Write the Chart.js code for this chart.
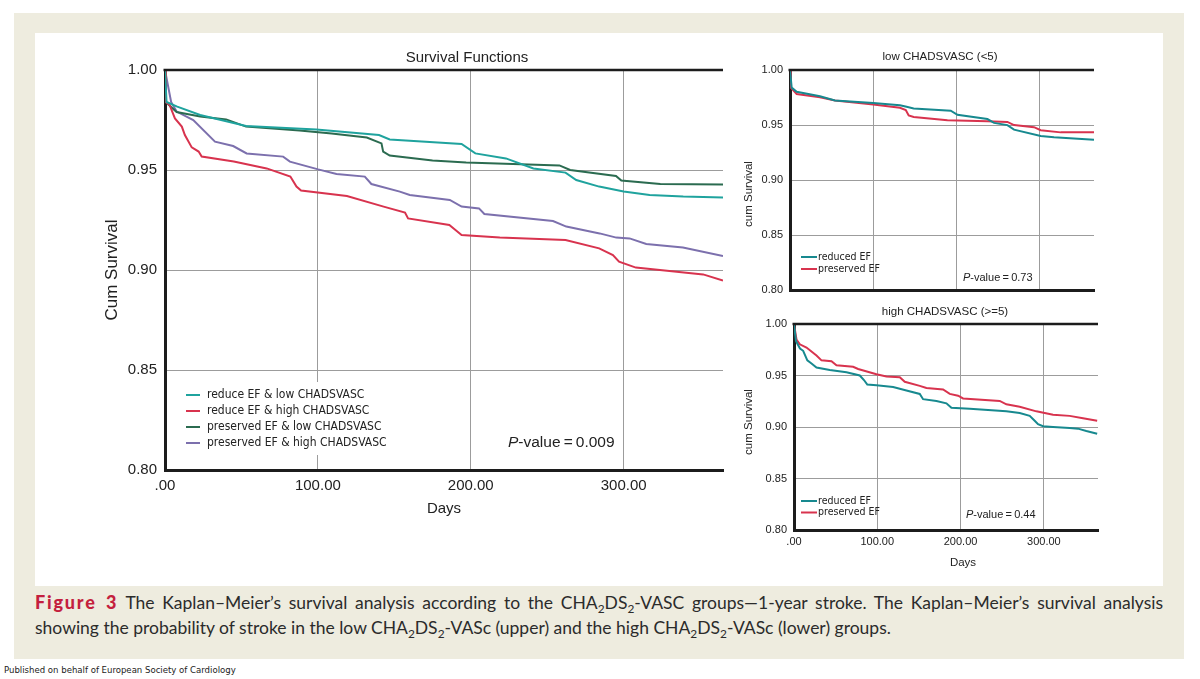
<!DOCTYPE html>
<html>
<head>
<meta charset="utf-8">
<script src="https://cdn.jsdelivr.net/npm/chart.js@4.4.0/dist/chart.umd.min.js"></script>
<style>
  body { margin: 0; width: 1200px; height: 679px; background: #fff; position: relative; overflow: hidden; }
  #frame { position: absolute; left: 14px; top: 13px; width: 1170px; height: 646px; background: #eeecdf; }
  #panel { position: absolute; left: 35px; top: 33px; width: 1128px; height: 553px; background: #fff; }
  .box { position: absolute; }
  #caption { position: absolute; left: 35px; top: 590px; width: 1128px; font-family: Lato, 'Open Sans', sans-serif; font-size: 17.5px; line-height: 25px; color: #2b2b2b; }
  #caption .l1 { text-align: justify; text-align-last: justify; white-space: nowrap; }
  #caption b { color: #c41f3e; font-weight: 900; font-size: 18px; letter-spacing: 1.8px; }
  #caption sub { font-size: 0.68em; vertical-align: -0.3em; line-height: 0; }
  #pub { position: absolute; left: 4px; top: 664px; font-family: 'Liberation Sans Narrow', 'DejaVu Sans Condensed', sans-serif; font-size: 9.5px; color: #222; }
</style>
</head>
<body>
<div id="frame"></div>
<div id="panel"></div>
<div class="box" style="left:36px;top:34px;width:704px;height:500px"><canvas id="chart-main" width="704" height="500"></canvas></div>
<div class="box" style="left:740px;top:34px;width:420px;height:270px"><canvas id="chart-low" width="420" height="270"></canvas></div>
<div class="box" style="left:740px;top:296px;width:420px;height:280px"><canvas id="chart-high" width="420" height="280"></canvas></div>
<div id="caption">
  <div class="l1"><b>Figure 3</b> The Kaplan–Meier’s survival analysis according to the CHA<sub>2</sub>DS<sub>2</sub>-VASC groups—1-year stroke. The Kaplan–Meier’s survival analysis</div>
  <div class="l2">showing the probability of stroke in the low CHA<sub>2</sub>DS<sub>2</sub>-VASc (upper) and the high CHA<sub>2</sub>DS<sub>2</sub>-VASc (lower) groups.</div>
</div>
<div id="pub">Published on behalf of European Society of Cardiology</div>

<script>
// ==================== DATA ====================

// axis ticks (shared)
const xTicks = [0, 100, 200, 300];
const xTickLabels = ['.00', '100.00', '200.00', '300.00'];
const yTicks = [0.80, 0.85, 0.90, 0.95, 1.00];
const yTickLabels = ['0.80', '0.85', '0.90', '0.95', '1.00'];

// main panel: Survival Functions
const reduceLowDays = [0, 1, 8, 23, 53, 99, 140, 147, 194, 203, 223, 241, 262, 269, 284, 300, 317, 339, 365];
const reduceLowSurv = [1.0, 0.984, 0.9817, 0.9775, 0.972, 0.9703, 0.9675, 0.9653, 0.963, 0.9583, 0.9558, 0.9508, 0.9487, 0.945, 0.9417, 0.9392, 0.9375, 0.9367, 0.9362];

const reduceHighDays = [0, 0.5, 3, 6.5, 11, 13, 17.5, 22, 24, 45, 66.5, 82, 86, 89, 119, 143, 157, 159, 186, 190, 194, 219, 262, 284, 293, 297, 308, 352, 365];
const reduceHighSurv = [1.0, 0.984, 0.9825, 0.9758, 0.9717, 0.9675, 0.9613, 0.9592, 0.9567, 0.9542, 0.9508, 0.9467, 0.9417, 0.9397, 0.937, 0.9317, 0.9287, 0.9258, 0.9225, 0.92, 0.9175, 0.9163, 0.915, 0.9108, 0.9075, 0.9042, 0.9012, 0.8978, 0.8947];

const presLowDays = [0, 0.5, 7.6, 23, 40, 53, 88, 109, 132, 141.6, 142.7, 147, 175, 197, 258, 265, 295, 298.5, 324, 365];
const presLowSurv = [1.0, 0.984, 0.979, 0.9767, 0.9753, 0.9717, 0.9697, 0.9683, 0.9662, 0.9633, 0.9592, 0.9572, 0.9547, 0.9537, 0.9523, 0.95, 0.947, 0.9447, 0.943, 0.9428];

const presHighDays = [0, 4, 7.6, 18.5, 32.7, 44.6, 53.4, 77.3, 81.7, 100.2, 112.2, 130.7, 135, 153.6, 160.1, 186.3, 194, 205.4, 208.9, 253.8, 262.5, 284.3, 295.2, 303.9, 314.8, 338.8, 365];
const presHighSurv = [1.0, 0.984, 0.9792, 0.975, 0.9642, 0.962, 0.9583, 0.9567, 0.9542, 0.9503, 0.948, 0.9467, 0.943, 0.9392, 0.9375, 0.935, 0.9317, 0.9308, 0.928, 0.9245, 0.9217, 0.9183, 0.9162, 0.9158, 0.913, 0.9113, 0.907];

// small panel: low CHADSVASC (<5)
const lowReducedDays = [0, 2, 8, 36, 54, 100, 132, 140, 148.5, 193, 201, 237, 245, 261, 269, 301, 317, 365];
const lowReducedSurv = [1.0, 0.984, 0.9802, 0.9762, 0.9724, 0.97, 0.968, 0.9666, 0.9651, 0.9631, 0.9593, 0.9555, 0.952, 0.95, 0.9459, 0.9402, 0.9389, 0.9367];
const lowPreservedDays = [0, 1, 8, 36, 54, 100, 132, 139, 142.5, 148.5, 189, 237, 261, 269, 293, 301, 325, 365];
const lowPreservedSurv = [1.0, 0.984, 0.9782, 0.9753, 0.9724, 0.9686, 0.9657, 0.9637, 0.9587, 0.9573, 0.9544, 0.9535, 0.9529, 0.95, 0.9481, 0.9453, 0.9434, 0.9434];

// small panel: high CHADSVASC (>=5)
const highReducedDays = [0, 2.4, 7.2, 11, 16, 21, 27, 43, 63, 79, 84, 88, 99, 119, 135, 151, 155, 171, 183, 189, 211, 255, 271, 283, 289, 293, 299, 311, 331, 341, 351, 364];
const highReducedSurv = [1.0, 0.9834, 0.9762, 0.974, 0.9647, 0.9616, 0.9578, 0.9553, 0.9531, 0.95, 0.9456, 0.9412, 0.9405, 0.9389, 0.9355, 0.9321, 0.927, 0.9253, 0.923, 0.9186, 0.9176, 0.9152, 0.9135, 0.9108, 0.9061, 0.9027, 0.9007, 0.90, 0.899, 0.8984, 0.8961, 0.8935];
const highPreservedDays = [0, 3, 7, 15, 27, 33, 45, 51, 71, 77, 99, 111, 127, 133, 151, 159, 179, 187, 197, 203, 247, 255, 271, 291, 311, 331, 347, 364];
const highPreservedSurv = [1.0, 0.985, 0.9803, 0.9772, 0.9694, 0.9647, 0.9638, 0.96, 0.9584, 0.9563, 0.9513, 0.949, 0.9483, 0.9439, 0.9399, 0.9378, 0.9365, 0.9321, 0.9304, 0.9277, 0.9253, 0.922, 0.9196, 0.9152, 0.9118, 0.9108, 0.9084, 0.9061];

// ==================== STYLE ====================

const FONT = "'Liberation Sans', Arial, sans-serif";
const NARROW = "'Liberation Sans Narrow', 'DejaVu Sans Condensed', " + FONT;
const INK = '#222';
const GRID = '#9c9c9c';
const AXIS = '#1c1c1c';

const C_TEAL = '#1fa39e';
const C_RED = '#d8334e';
const C_GREEN = '#2b6b50';
const C_PURPLE = '#7c70ad';
const C_TEAL_SMALL = '#17898f';

Chart.defaults.font.family = FONT;
Chart.defaults.color = INK;

const toPoints = (days, surv) => days.map((d, i) => ({ x: d, y: surv[i] }));

function series(label, days, surv, color) {
  return {
    label,
    data: toPoints(days, surv),
    borderColor: color,
    backgroundColor: color,
    borderWidth: 2,
    pointRadius: 0,
    tension: 0,
    fill: false
  };
}

// draws titles, axis titles, legend and p-value (canvas coordinates)
function decor(cfg) {
  return {
    id: 'decor',
    beforeDatasetsDraw(chart) {
      if (!cfg.legendBox) return;
      const ctx = chart.ctx;
      const b = cfg.legendBox;
      ctx.save();
      ctx.fillStyle = '#fff';
      ctx.fillRect(b[0], b[1], b[2], b[3]);
      ctx.restore();
    },
    afterDraw(chart) {
      const ctx = chart.ctx;
      const a = chart.chartArea;
      ctx.save();
      // top frame line
      ctx.strokeStyle = AXIS;
      ctx.lineWidth = cfg.topWidth;
      ctx.beginPath();
      ctx.moveTo(a.left - 1.5, a.top);
      ctx.lineTo(a.right, a.top);
      ctx.stroke();

      ctx.fillStyle = INK;
      ctx.textBaseline = 'middle';
      ctx.textAlign = 'center';
      ctx.font = cfg.title.size + 'px ' + FONT;
      ctx.fillText(cfg.title.text, cfg.title.x, cfg.title.y);

      if (cfg.xTitle) {
        ctx.font = cfg.xTitle.size + 'px ' + FONT;
        ctx.fillText(cfg.xTitle.text, cfg.xTitle.x, cfg.xTitle.y);
      }

      ctx.save();
      ctx.translate(cfg.yTitle.x, cfg.yTitle.y);
      ctx.rotate(-Math.PI / 2);
      ctx.font = cfg.yTitle.size + 'px ' + FONT;
      ctx.fillText(cfg.yTitle.text, 0, 0);
      ctx.restore();

      // legend
      const lg = cfg.legend;
      ctx.textAlign = 'left';
      ctx.font = lg.size + 'px ' + lg.font;
      chart.data.datasets.forEach((ds, i) => {
        const y = lg.y + i * lg.gap;
        ctx.strokeStyle = ds.borderColor;
        ctx.lineWidth = 2;
        ctx.beginPath();
        ctx.moveTo(lg.x0, y);
        ctx.lineTo(lg.x1, y);
        ctx.stroke();
        ctx.fillStyle = INK;
        ctx.fillText(ds.label, lg.tx, y);
      });

      // p-value
      const p = cfg.pValue;
      ctx.font = 'italic ' + p.size + 'px ' + FONT;
      ctx.fillText('P', p.x, p.y);
      const w = ctx.measureText('P').width;
      ctx.font = p.size + 'px ' + FONT;
      ctx.fillText('-value\u2009=\u2009' + p.value, p.x + w, p.y);
      ctx.restore();
    }
  };
}

function scalesFor(o) {
  return {
    x: {
      type: 'linear',
      min: 0,
      max: 365,
      afterBuildTicks: (s) => { s.ticks = xTicks.map(v => ({ value: v })); },
      afterFit: (s) => { s.height = o.xHeight; },
      grid: { color: GRID, lineWidth: 1, drawTicks: false },
      border: { display: true, color: AXIS, width: 3 },
      ticks: {
        display: o.xLabels,
        padding: o.xPad,
        maxRotation: 0,
        font: { size: o.tickSize },
        color: INK,
        callback: (v, i) => xTickLabels[i]
      }
    },
    y: {
      type: 'linear',
      min: 0.8,
      max: 1.0,
      afterBuildTicks: (s) => { s.ticks = yTicks.map(v => ({ value: v })); },
      afterFit: (s) => { s.width = o.yWidth; },
      grid: { color: GRID, lineWidth: 1, drawTicks: false },
      border: { display: true, color: AXIS, width: 3 },
      ticks: {
        padding: o.yPad,
        font: { size: o.tickSize },
        color: INK,
        callback: (v, i) => yTickLabels[i]
      }
    }
  };
}

function baseOptions(o) {
  return {
    responsive: false,
    devicePixelRatio: 1,
    animation: false,
    layout: { padding: o.padding, autoPadding: false },
    plugins: { legend: { display: false }, tooltip: { enabled: false } },
    scales: scalesFor(o)
  };
}

// ==================== MAIN CHART ====================

new Chart(document.getElementById('chart-main'), {
  type: 'line',
  data: {
    datasets: [
      series('reduce EF & low CHADSVASC', reduceLowDays, reduceLowSurv, C_TEAL),
      series('reduce EF & high CHADSVASC', reduceHighDays, reduceHighSurv, C_RED),
      series('preserved EF & low CHADSVASC', presLowDays, presLowSurv, C_GREEN),
      series('preserved EF & high CHADSVASC', presHighDays, presHighSurv, C_PURPLE)
    ]
  },
  options: baseOptions({
    padding: { top: 36, right: 17, bottom: 0, left: 0 },
    xHeight: 64, yWidth: 129, xPad: 7, yPad: 8, tickSize: 15, xLabels: true
  }),
  plugins: [decor({
    topWidth: 2.5,
    title: { text: 'Survival Functions', x: 431, y: 24, size: 15 },
    xTitle: { text: 'Days', x: 408, y: 475, size: 15 },
    yTitle: { text: 'Cum Survival', x: 76, y: 236, size: 17 },
    legendBox: [139, 348, 226, 73],
    legend: { x0: 150, x1: 164, tx: 171, y: 361, gap: 16, size: 12, font: NARROW },
    pValue: { value: '0.009', x: 472, y: 409, size: 15.5 }
  })]
});

// ==================== LOW CHADSVASC ====================

new Chart(document.getElementById('chart-low'), {
  type: 'line',
  data: {
    datasets: [
      series('reduced EF', lowReducedDays, lowReducedSurv, C_TEAL_SMALL),
      series('preserved EF', lowPreservedDays, lowPreservedSurv, C_RED)
    ]
  },
  options: baseOptions({
    padding: { top: 36, right: 66, bottom: 0, left: 0 },
    xHeight: 7, yWidth: 50, xPad: 5, yPad: 7, tickSize: 11, xLabels: false
  }),
  plugins: [decor({
    topWidth: 2.5,
    title: { text: 'low CHADSVASC (<5)', x: 200, y: 23, size: 11.5 },
    yTitle: { text: 'cum Survival', x: 9, y: 160, size: 11.5 },
    legend: { x0: 61, x1: 77, tx: 78, y: 223, gap: 12, size: 10.5, font: NARROW },
    pValue: { value: '0.73', x: 223, y: 244, size: 11 }
  })]
});

// ==================== HIGH CHADSVASC ====================

new Chart(document.getElementById('chart-high'), {
  type: 'line',
  data: {
    datasets: [
      series('reduced EF', highReducedDays, highReducedSurv, C_TEAL_SMALL),
      series('preserved EF', highPreservedDays, highPreservedSurv, C_RED)
    ]
  },
  options: baseOptions({
    padding: { top: 28, right: 62, bottom: 0, left: 0 },
    xHeight: 46, yWidth: 54, xPad: 5, yPad: 7, tickSize: 11, xLabels: true
  }),
  plugins: [decor({
    topWidth: 2.5,
    title: { text: 'high CHADSVASC (>=5)', x: 205, y: 16, size: 11.5 },
    xTitle: { text: 'Days', x: 223, y: 267, size: 11.5 },
    yTitle: { text: 'cum Survival', x: 9, y: 126, size: 11.5 },
    legend: { x0: 61, x1: 77, tx: 78, y: 205, gap: 11.5, size: 10.5, font: NARROW },
    pValue: { value: '0.44', x: 226, y: 219, size: 11 }
  })]
});
</script>
</body>
</html>
